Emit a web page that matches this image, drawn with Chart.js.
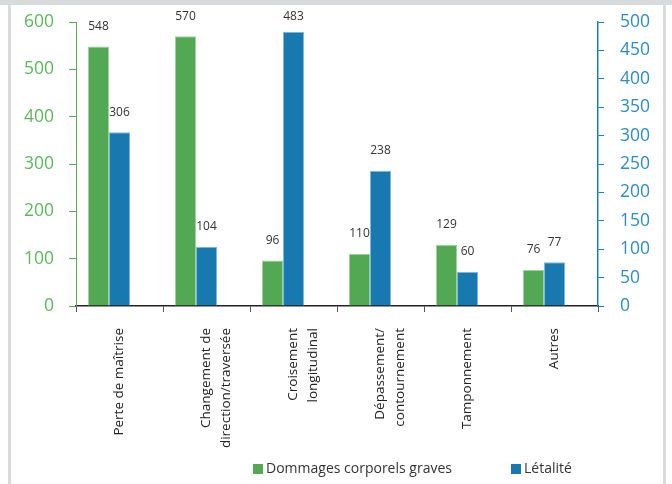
<!DOCTYPE html>
<html>
<head>
<meta charset="utf-8">
<script src="https://cdn.jsdelivr.net/npm/chart.js@4.4.0/dist/chart.umd.min.js"></script>
<style>
  html, body { margin: 0; padding: 0; background: #fff; }
  body { width: 672px; height: 484px; position: relative; overflow: hidden; font-family: "Open Sans", sans-serif; }
  #topband { position: absolute; left: 0; top: 0; width: 672px; height: 5px; background: #d9dadb; }
  #lline { position: absolute; left: 8px; top: 0; width: 3px; height: 484px; background: #d9dadb; }
  #rline { position: absolute; left: 663px; top: 0; width: 3px; height: 484px; background: #d9dadb; }
  #wrap { position: absolute; left: 11px; top: 5px; width: 652px; height: 479px; }
  #legend { position: absolute; top: 458px; left: 0; width: 672px; height: 20px; font-size: 14px; color: #333; }
  .item { position: absolute; top: 0; line-height: 20px; white-space: nowrap; }
  .box { display: inline-block; width: 10px; height: 10px; margin-right: 3px; vertical-align: -1px; }
</style>
</head>
<body>
<div id="topband"></div>
<div id="lline"></div>
<div id="rline"></div>
<div id="wrap"><canvas id="chart" width="652" height="479"></canvas></div>
<div id="legend"></div>
<script>
const categories = [
  'Perte de maîtrise',
  ['Changement de', 'direction/traversée'],
  ['Croisement', 'longitudinal'],
  ['Dépassement/', 'contournement'],
  'Tamponnement',
  'Autres'
];
const dommages = [548, 570, 96, 110, 129, 76];
const letalite = [306, 104, 483, 238, 60, 77];
const leftTicks = [0, 100, 200, 300, 400, 500, 600];
const rightTicks = [0, 50, 100, 150, 200, 250, 300, 350, 400, 450, 500];

const green = '#53a853';
const blue = '#1779b0';

// values printed above each bar (kept inside the top of the frame)
const valueLabels = {
  id: 'valueLabels',
  afterDatasetsDraw(chart) {
    const ctx = chart.ctx;
    ctx.save();
    ctx.font = '12px "Open Sans"';
    ctx.fillStyle = '#333';
    ctx.textAlign = 'center';
    ctx.textBaseline = 'middle';
    chart.data.datasets.forEach((ds, i) => {
      if (!ds.showValues) return;
      chart.getDatasetMeta(i).data.forEach((bar, j) => {
        ctx.fillText(ds.data[j], bar.x, Math.max(bar.y - 20, 12));
      });
    });
    ctx.restore();
  }
};

// y axes: no extra top/bottom room for the end labels
function yFit(width) {
  return function (s) {
    s.width = width;
    s.paddingTop = 0;
    s.paddingBottom = 0;
  };
}

const chart = new Chart(document.getElementById('chart'), {
  type: 'bar',
  data: {
    labels: categories,
    datasets: [
      { label: 'Dommages corporels graves', data: dommages, yAxisID: 'y', backgroundColor: green, borderColor: '#9fd09f', borderWidth: 1, showValues: true },
      { label: 'Létalité', data: letalite, yAxisID: 'y1', backgroundColor: blue, borderColor: '#7db8da', borderWidth: 1, showValues: true },
      // empty slot: keeps the pair shifted left as in the original
      { label: '', data: categories.map(() => null), yAxisID: 'y', spacer: true }
    ]
  },
  options: {
    responsive: false,
    animation: false,
    categoryPercentage: 0.724,
    barPercentage: 1,
    layout: { padding: { top: 17, bottom: 28, left: 0, right: 0 } },
    plugins: { legend: { display: false }, tooltip: { enabled: false } },
    scales: {
      x: {
        border: { color: '#222', width: 1.5 },
        grid: { drawOnChartArea: false, tickLength: 6, color: '#555', offset: true },
        ticks: { minRotation: 90, maxRotation: 90, padding: 16, color: '#222', font: { family: 'Open Sans', size: 13.5, lineHeight: 1.45 }, autoSkip: false },
        afterFit(s) { s.height = 150; }
      },
      y: {
        position: 'left',
        min: 0, max: 600,
        afterBuildTicks(s) { s.ticks = leftTicks.map(v => ({ value: v })); },
        border: { color: '#5aaa5a', width: 1 },
        grid: { drawOnChartArea: false, tickLength: 7, color: '#5aaa5a' },
        ticks: { padding: 15, color: '#5cb85c', font: { family: 'Open Sans', size: 17.5 } },
        afterFit: yFit(65)
      },
      y1: {
        position: 'right',
        min: 0, max: 500,
        afterBuildTicks(s) { s.ticks = rightTicks.map(v => ({ value: v })); },
        border: { color: '#1c7fb8', width: 1.5 },
        grid: { drawOnChartArea: false, tickLength: 6, color: '#1c7fb8' },
        ticks: { padding: 16, color: '#2f8bc3', font: { family: 'Open Sans', size: 17.5 } },
        afterFit: yFit(65)
      }
    }
  },
  plugins: [valueLabels]
});

// legend built from the datasets
const legend = document.getElementById('legend');
const legendX = [253, 511];
chart.data.datasets.filter(d => !d.spacer).forEach((d, i) => {
  const el = document.createElement('span');
  el.className = 'item';
  el.style.left = legendX[i] + 'px';
  el.innerHTML = '<span class="box" style="background:' + d.backgroundColor + '"></span>' + d.label;
  legend.appendChild(el);
});
</script>
</body>
</html>
